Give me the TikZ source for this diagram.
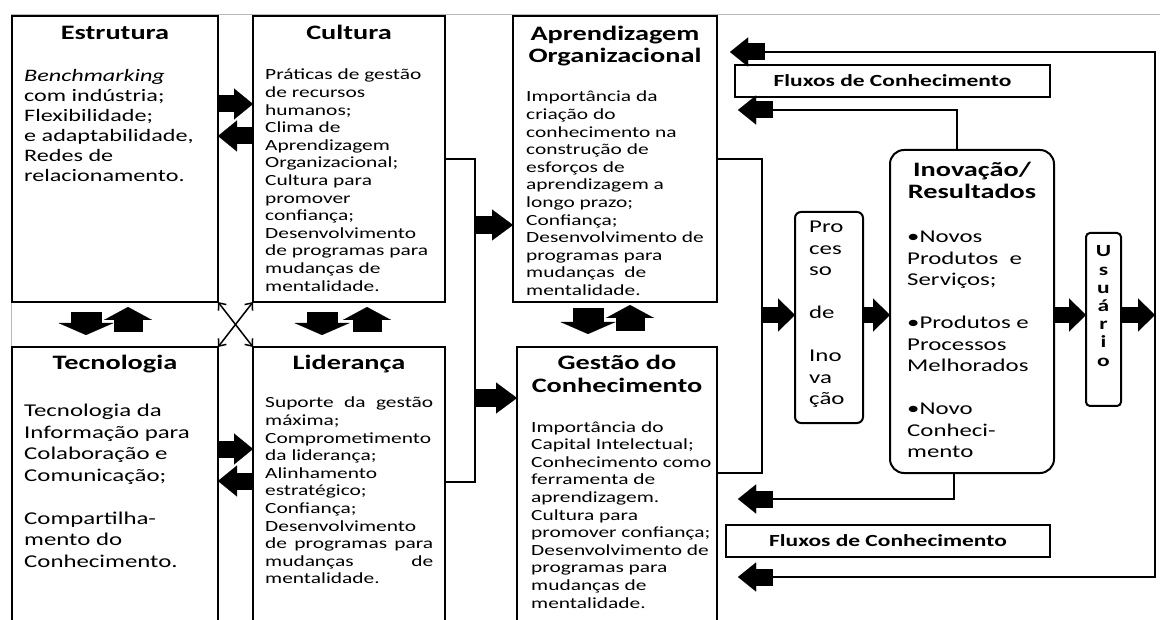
\documentclass[tikz,border=0pt]{standalone}
\usepackage{fontspec}
\setmainfont{Carlito}[FakeStretch=1.38]
\usetikzlibrary{arrows.meta}
\newcommand\dgBody{\fontsize{15.5}{17.6}\selectfont}
\newcommand\dgMid{\fontsize{17.5}{20}\selectfont}
\newcommand\dgLarge{\fontsize{18}{21.5}\selectfont}
\newcommand\dgTitle{\fontsize{20.5}{22}\selectfont\bfseries}
\newcommand\dgTx[1]{\parbox[t]{300pt}{\raggedright #1}}
\newcommand\dgJ[1]{\leavevmode\hbox to 168pt{#1}}
\begin{document}
\begin{tikzpicture}[x=1pt,y=-1pt,
  box/.style={draw,line width=2pt,anchor=north west,inner sep=0pt,outer sep=0pt},
  txt/.style={anchor=base west,inner sep=0pt},
  ttl/.style={anchor=base,inner sep=0pt,font=\dgTitle,align=center},
  ln/.style={line width=2.2pt},
  xarr/.style={line width=1.5pt,{Straight Barb[length=6pt,width=10pt]}-{Straight Barb[length=6pt,width=10pt]}},
  fatH/.style={line width=17pt,-{Triangle[length=19pt,width=31pt,line width=0.01pt]}},
  fatM/.style={line width=18pt,-{Triangle[length=21pt,width=31pt,line width=0.01pt]}},
  fatR/.style={line width=16pt,-{Triangle[length=17pt,width=33pt,line width=0.01pt]}},
  fatF/.style={line width=17pt,-{Triangle[length=18pt,width=29pt,line width=0.01pt]}},
  fatD/.style={line width=31pt,-{Triangle[length=12pt,width=55pt,line width=0.01pt]}},
  fatU/.style={line width=29pt,-{Triangle[length=13pt,width=48pt,line width=0.01pt]}}
]
\useasboundingbox (0,0) rectangle (1160,620);
\fill[white] (0,0) rectangle (1160,620);
\draw[gray!55,line width=1pt] (11,620) -- (11,14.5) -- (1160,14.5);

% boxes
\node[box,minimum width=206pt,minimum height=286pt] (estrutura) at (12,16) {};
\node[box,minimum width=192pt,minimum height=286pt] (cultura) at (253,16) {};
\node[box,minimum width=206pt,minimum height=293pt] (tecnologia) at (12,347) {};
\node[box,minimum width=192pt,minimum height=293pt] (lideranca) at (253,347) {};
\node[box,minimum width=204pt,minimum height=286pt] (aprend) at (513,16) {};
\node[box,minimum width=200pt,minimum height=293pt] (gestao) at (517,347) {};
\node[box,rounded corners=14pt,minimum width=164pt,minimum height=323pt] (inovacao) at (890,150) {};
\node[box,rounded corners=6pt,minimum width=68pt,minimum height=211pt] (processo) at (795,212) {};
\node[box,rounded corners=4pt,minimum width=35pt,minimum height=173pt] (usuario) at (1086,233) {};
\node[box,minimum width=315pt,minimum height=32pt,font=\fontsize{17}{20}\selectfont\bfseries] (fluxA) at (735,65) {Fluxos de Conhecimento};
\node[box,minimum width=324pt,minimum height=32pt,font=\fontsize{17}{20}\selectfont\bfseries] (fluxB) at (726,525) {Fluxos de Conhecimento};

% titles
\node[ttl] (estTitle) at (115,40) {Estrutura};
\node[ttl] (culTitle) at (349,40) {Cultura};
\node[ttl] (tecTitle) at (115,370) {Tecnologia};
\node[ttl] (lidTitle) at (349,370) {Liderança};
\node[ttl] (aprTitle1) at (615,41) {Aprendizagem};
\node[ttl] (aprTitle2) at (615,63) {Organizacional};
\node[ttl] (gesTitle1) at (617,370) {Gestão do};
\node[ttl] (gesTitle2) at (617,392) {Conhecimento};
\node[ttl] (inoTitle1) at (972,177) {Inovação/};
\node[ttl] (inoTitle2) at (972,199) {Resultados};

% bodies
\node[txt] (estBody) at (24,82) {\dgTx{\dgMid\textit{Benchmarking}\\com indústria;\\Flexibilidade;\\e adaptabilidade,\\Redes de\\relacionamento.}};
\node[txt] (culBody) at (265,80) {\dgTx{\dgBody Práticas de gestão\\de recursos\\humanos;\\Clima de\\Aprendizagem\\Organizacional;\\Cultura para\\promover\\confiança;\\Desenvolvimento\\de programas para\\mudanças de\\mentalidade.}};
\node[txt] (tecBody) at (24,417) {\dgTx{\dgLarge Tecnologia da\\Informação para\\Colaboração e\\Comunicação;\\[21.5pt]Compartilha-\\mento do\\Conhecimento.}};
\node[txt] (lidBody) at (265,408) {\dgTx{\dgBody \dgJ{Suporte\hfill da\hfill gestão}\\máxima;\\Comprometimento\\da liderança;\\Alinhamento\\estratégico;\\Confiança;\\Desenvolvimento\\\dgJ{de\hfill programas\hfill para}\\\dgJ{mudanças\hfill de}\\mentalidade.}};
\node[txt] (aprBody) at (526,102) {\dgTx{\dgBody Importância da\\criação do\\conhecimento na\\construção de\\esforços de\\aprendizagem a\\longo prazo;\\Confiança;\\Desenvolvimento de\\programas para\\mudanças\ \ de\\mentalidade.}};
\node[txt] (gesBody) at (531,432) {\dgTx{\dgBody Importância do\\Capital Intelectual;\\Conhecimento como\\ferramenta de\\aprendizagem.\\Cultura para\\promover confiança;\\Desenvolvimento de\\programas para\\mudanças de\\mentalidade.}};
\node[txt] (inoBody) at (907,243) {\dgTx{\dgLarge •Novos\\Produtos\ \ e\\Serviços;\\[21.5pt]•Produtos e\\Processos\\Melhorados\\[21.5pt]•Novo\\Conheci-\\mento}};
\node[txt] (proBody) at (809,233) {\dgTx{\dgLarge Pro\\ces\\so\\[21.5pt]de\\[21.5pt]Ino\\va\\ção}};
\node[anchor=base,inner sep=0pt] (usuBody) at (1103.5,257) {\parbox[t]{24pt}{\centering\fontsize{17}{18.2}\selectfont\bfseries U\\s\\u\\á\\r\\i\\o}};

% left cluster arrows
\draw[fatH] (estrutura.east |- 0,104) -- (cultura.west |- 0,104);
\draw[fatH] (cultura.west |- 0,136) -- (estrutura.east |- 0,136);
\draw[fatH] (tecnologia.east |- 0,449) -- (lideranca.west |- 0,449);
\draw[fatH] (lideranca.west |- 0,481) -- (tecnologia.east |- 0,481);
\draw[fatD,shorten <=10pt,shorten >=12pt] (estrutura.south -| 86,0) -- (tecnologia.north -| 86,0);
\draw[fatU,shorten <=15pt,shorten >=5pt] (tecnologia.north -| 128,0) -- (estrutura.south -| 128,0);
\draw[fatD,shorten <=10pt,shorten >=12pt] (cultura.south -| 322,0) -- (lideranca.north -| 322,0);
\draw[fatU,shorten <=15pt,shorten >=5pt] (lideranca.north -| 367,0) -- (cultura.south -| 367,0);
\draw[fatD,shorten <=6pt,shorten >=13pt] (aprend.south -| 588,0) -- (gestao.north -| 588,0);
\draw[fatU,shorten <=16pt,shorten >=3pt] (gestao.north -| 630,0) -- (aprend.south -| 630,0);
\draw[xarr] (estrutura.south east) -- (lideranca.north west);
\draw[xarr] (cultura.south west) -- (tecnologia.north east);

% middle connectors
\coordinate (j1) at (475,159);
\coordinate (j2) at (475,482);
\draw[ln] (cultura.east |- j1) -- (j1) -- (j2) -- (lideranca.east |- j2);
\draw[fatM] (j1 |- 0,225) -- (aprend.west |- 0,225);
\draw[fatM] (j1 |- 0,398) -- (gestao.west |- 0,398);

% right connectors
\coordinate (k1) at (762,159);
\coordinate (k2) at (762,473);
\draw[ln] (aprend.east |- k1) -- (k1) -- (k2) -- (gestao.east |- k2);
\coordinate (rt) at (1155,52);
\coordinate (rb) at (1155,577);
\draw[fatR] (k1 |- 0,315) -- (processo.west |- 0,315);
\draw[fatR] (processo.east |- 0,315) -- (inovacao.west |- 0,315);
\draw[fatR] (inovacao.east |- 0,315) -- (usuario.west |- 0,315);
\draw[fatR] (usuario.east |- 0,315) -- (rt |- 0,315);

% feedback flows
\coordinate (t1) at (765,52);
\coordinate (t1tip) at (730,52);
\coordinate (t2) at (773,110);
\coordinate (t2tip) at (738,110);
\coordinate (b1) at (773,499);
\coordinate (b1tip) at (738,499);
\coordinate (b2) at (773,577);
\coordinate (b2tip) at (738,577);
\draw[ln] (t1) -- (rt) -- (rb) -- (b2);
\draw[fatF] (t1) -- (t1tip);
\draw[fatF] (b2) -- (b2tip);
\draw[ln] (inovacao.north -| 957,0) |- (t2);
\draw[fatF] (t2) -- (t2tip);
\draw[ln] (inovacao.south -| 954,0) |- (b1);
\draw[fatF] (b1) -- (b1tip);
\end{tikzpicture}
\end{document}
